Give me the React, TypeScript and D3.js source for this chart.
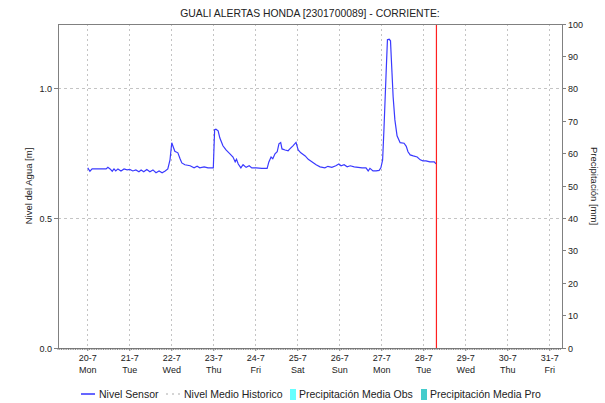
import React from "react";
import * as d3 from "d3";

const TITLE = "GUALI ALERTAS HONDA [2301700089] - CORRIENTE:";
const Y_LEFT_LABEL = "Nivel del Agua [m]";
const Y_RIGHT_LABEL = "Precipitación [mm]";

const DOMAIN_START = "2020-07-19T07:00";
const DOMAIN_END = "2020-07-31T07:00";
const NOW_TIME = "2020-07-28T07:15";

const dayTicks = ["2020-07-20T00:00","2020-07-21T00:00","2020-07-22T00:00","2020-07-23T00:00","2020-07-24T00:00","2020-07-25T00:00","2020-07-26T00:00","2020-07-27T00:00","2020-07-28T00:00","2020-07-29T00:00","2020-07-30T00:00","2020-07-31T00:00"];
const dayLabels = ["20-7","21-7","22-7","23-7","24-7","25-7","26-7","27-7","28-7","29-7","30-7","31-7"];
const weekdayLabels = ["Mon","Tue","Wed","Thu","Fri","Sat","Sun","Mon","Tue","Wed","Thu","Fri"];

const leftTicks = [0, 0.5, 1.0];
const rightTicks = [0, 10, 20, 30, 40, 50, 60, 70, 80, 90, 100];

const sensorTimes = [
"2020-07-20T00:00","2020-07-20T01:15","2020-07-20T02:30","2020-07-20T07:00","2020-07-20T10:30","2020-07-20T11:30","2020-07-20T12:45","2020-07-20T14:00","2020-07-20T15:00","2020-07-20T16:00","2020-07-20T17:15","2020-07-20T19:00","2020-07-20T20:45","2020-07-20T22:30",
"2020-07-21T00:00","2020-07-21T01:45","2020-07-21T03:30","2020-07-21T05:15","2020-07-21T06:30","2020-07-21T08:00","2020-07-21T09:45","2020-07-21T11:30","2020-07-21T13:15","2020-07-21T15:00","2020-07-21T16:45","2020-07-21T18:30","2020-07-21T20:15","2020-07-21T21:45","2020-07-21T23:00",
"2020-07-22T00:00","2020-07-22T01:45","2020-07-22T03:30","2020-07-22T04:45","2020-07-22T05:45","2020-07-22T07:30","2020-07-22T10:30","2020-07-22T12:45","2020-07-22T14:30","2020-07-22T16:00","2020-07-22T18:30","2020-07-22T20:45","2020-07-22T23:00","2020-07-22T23:45",
"2020-07-23T00:30","2020-07-23T01:15","2020-07-23T02:30","2020-07-23T03:30","2020-07-23T05:15","2020-07-23T07:00","2020-07-23T09:15","2020-07-23T11:00","2020-07-23T12:15","2020-07-23T13:00","2020-07-23T14:00","2020-07-23T15:30","2020-07-23T16:45","2020-07-23T18:30","2020-07-23T20:15","2020-07-23T21:45",
"2020-07-24T00:15","2020-07-24T03:30","2020-07-24T06:30","2020-07-24T07:30","2020-07-24T08:45","2020-07-24T09:45","2020-07-24T11:00","2020-07-24T12:15","2020-07-24T13:15","2020-07-24T14:15","2020-07-24T15:00","2020-07-24T16:45","2020-07-24T18:30","2020-07-24T19:30","2020-07-24T21:15","2020-07-24T23:00",
"2020-07-25T00:15","2020-07-25T01:45","2020-07-25T04:15","2020-07-25T06:00","2020-07-25T08:15","2020-07-25T10:30","2020-07-25T12:45","2020-07-25T15:30","2020-07-25T17:15","2020-07-25T19:30","2020-07-25T21:45","2020-07-25T23:30",
"2020-07-26T00:45","2020-07-26T02:30","2020-07-26T04:15","2020-07-26T06:00","2020-07-26T08:15","2020-07-26T10:30","2020-07-26T12:45","2020-07-26T15:00","2020-07-26T16:15","2020-07-26T17:15","2020-07-26T19:00","2020-07-26T20:45","2020-07-26T22:30","2020-07-26T23:30",
"2020-07-27T00:30","2020-07-27T01:15","2020-07-27T02:30","2020-07-27T03:15","2020-07-27T04:15","2020-07-27T05:00","2020-07-27T05:30","2020-07-27T06:30","2020-07-27T07:30","2020-07-27T08:45","2020-07-27T10:30","2020-07-27T12:45","2020-07-27T14:00","2020-07-27T15:00","2020-07-27T16:15","2020-07-27T18:00","2020-07-27T20:15","2020-07-27T22:00","2020-07-27T23:30",
"2020-07-28T01:15","2020-07-28T03:30","2020-07-28T06:00","2020-07-28T07:00"
];

const sensorLevels = [
0.695,0.682,0.691,0.691,0.691,0.697,0.691,0.682,0.691,0.683,0.691,0.683,0.691,0.687,
0.689,0.683,0.687,0.680,0.687,0.680,0.689,0.680,0.687,0.676,0.683,0.676,0.683,0.691,0.726,
0.792,0.759,0.753,0.730,0.714,0.707,0.703,0.695,0.701,0.695,0.699,0.695,0.695,0.695,
0.842,0.844,0.838,0.810,0.780,0.764,0.749,0.737,0.718,0.728,0.710,0.695,0.707,0.697,0.703,0.695,
0.695,0.693,0.693,0.718,0.737,0.730,0.749,0.757,0.788,0.793,0.768,0.764,0.761,0.768,0.780,0.793,
0.764,0.753,0.741,0.728,0.718,0.707,0.699,0.695,0.701,0.697,0.703,0.710,
0.703,0.707,0.699,0.703,0.699,0.697,0.695,0.695,0.683,0.693,0.683,0.683,0.685,0.695,
0.726,0.842,1.062,1.189,1.191,1.185,1.112,0.969,0.880,0.819,0.792,0.790,0.778,0.757,0.745,0.741,0.737,0.726,0.722,
0.722,0.718,0.718,0.710
];

const legendLabels = ["Nivel Sensor", "Nivel Medio Historico", "Precipitación Media Obs", "Precipitación Media Pro"];
const legendColors = ["#3333ff", "#c8c8c8", "#66ffff", "#44cccc"];

const W = 605, H = 403;
const M = { left: 58, right: 562, top: 24, bottom: 348 };
const FONT = "'Liberation Sans', Arial, sans-serif";

export default function App() {
  const parse = d3.timeParse("%Y-%m-%dT%H:%M");
  const x = d3.scaleTime().domain([parse(DOMAIN_START)!, parse(DOMAIN_END)!]).range([M.left, M.right]);
  const yL = d3.scaleLinear().domain([0, 1.25]).range([M.bottom, M.top]);
  const yR = d3.scaleLinear().domain([0, 100]).range([M.bottom, M.top]);

  const pts = sensorTimes.map((t, i) => [parse(t)!, sensorLevels[i]] as [Date, number]);
  const line = d3.line<[Date, number]>().x(d => x(d[0])).y(d => yL(d[1]));

  const hours = d3.timeHour.range(parse(DOMAIN_START)!, parse(DOMAIN_END)!);
  const nowX = x(parse(NOW_TIME)!);

  const axisColor = "#808080";
  const gridColor = "#c4c4c4";

  const legendY = 394;
  const legendX = [81, 166, 290, 421];
  const legendTextX = [99, 184, 299, 430];

  return (
    <svg width={W} height={H} style={{ position: "absolute", left: 0, top: 0, background: "#fff" }} fontFamily={FONT}>
      <rect x={0} y={0} width={W} height={H} fill="#fff" />
      <text x={(M.left + M.right) / 2} y={17} textAnchor="middle" fontSize={10.4} fill="#222">{TITLE}</text>

      {dayTicks.map((t, i) => (
        <line key={"vg" + i} x1={x(parse(t)!)} x2={x(parse(t)!)} y1={M.top} y2={M.bottom}
          stroke={gridColor} strokeDasharray="2,3" strokeWidth={1} shapeRendering="crispEdges" />
      ))}
      {leftTicks.filter(v => v > 0).map((v, i) => (
        <line key={"hg" + i} x1={M.left} x2={M.right} y1={yL(v)} y2={yL(v)}
          stroke={gridColor} strokeDasharray="3,3" strokeWidth={1} shapeRendering="crispEdges" />
      ))}

      <path d={line(pts) || ""} fill="none" stroke="#3a3aff" strokeWidth={1.2} />

      <line x1={nowX} x2={nowX} y1={M.top} y2={M.bottom} stroke="#ff2020" strokeWidth={1.2} />

      <line x1={M.left} x2={M.right} y1={M.top} y2={M.top} stroke={axisColor} shapeRendering="crispEdges" />
      <line x1={M.left} x2={M.left} y1={M.top} y2={M.bottom} stroke={axisColor} shapeRendering="crispEdges" />
      <line x1={M.right} x2={M.right} y1={M.top} y2={M.bottom} stroke={axisColor} shapeRendering="crispEdges" />
      <line x1={M.left} x2={M.right} y1={M.bottom} y2={M.bottom} stroke={axisColor} shapeRendering="crispEdges" />

      {hours.map((h, i) => (
        <line key={"mt" + i} x1={x(h)} x2={x(h)} y1={M.bottom} y2={M.bottom + 2} stroke="#707070" strokeWidth={0.8} />
      ))}

      {dayTicks.map((t, i) => (
        <g key={"xl" + i} transform={`translate(${x(parse(t)!)},0)`}>
          <line y1={M.bottom} y2={M.bottom + 3} stroke={axisColor} />
          <text y={361} textAnchor="middle" fontSize={9} fill="#222">{dayLabels[i]}</text>
          <text y={373} textAnchor="middle" fontSize={9} fill="#222">{weekdayLabels[i]}</text>
        </g>
      ))}

      {leftTicks.map((v, i) => (
        <g key={"ly" + i}>
          <line x1={M.left - 4} x2={M.left} y1={yL(v)} y2={yL(v)} stroke={axisColor} shapeRendering="crispEdges" />
          <text x={M.left - 6} y={yL(v) + 3.5} textAnchor="end" fontSize={9} fill="#222">{d3.format(".1f")(v)}</text>
        </g>
      ))}
      <text transform={`translate(32,${(M.top + M.bottom) / 2}) rotate(-90)`} textAnchor="middle" fontSize={9.5} fill="#222">{Y_LEFT_LABEL}</text>

      {rightTicks.map((v, i) => (
        <g key={"ry" + i}>
          <line x1={M.right} x2={M.right + 4} y1={yR(v)} y2={yR(v)} stroke={axisColor} shapeRendering="crispEdges" />
          <text x={M.right + 6} y={yR(v) + 3.5} textAnchor="start" fontSize={9} fill="#222">{v}</text>
        </g>
      ))}
      <text transform={`translate(591,${(M.top + M.bottom) / 2}) rotate(90)`} textAnchor="middle" fontSize={9.5} fill="#222">{Y_RIGHT_LABEL}</text>

      <line x1={legendX[0]} x2={legendX[0] + 14} y1={legendY} y2={legendY} stroke={legendColors[0]} strokeWidth={1.5} />
      <line x1={legendX[1]} x2={legendX[1] + 15} y1={legendY} y2={legendY} stroke={legendColors[1]} strokeWidth={1.5} strokeDasharray="2,4" />
      <rect x={legendX[2]} y={legendY - 5} width={6} height={11} fill={legendColors[2]} />
      <rect x={legendX[3]} y={legendY - 5} width={6} height={11} fill={legendColors[3]} />
      {legendLabels.map((l, i) => (
        <text key={"lg" + i} x={legendTextX[i]} y={legendY + 4} fontSize={10.5} fill="#222">{l}</text>
      ))}
    </svg>
  );
}
